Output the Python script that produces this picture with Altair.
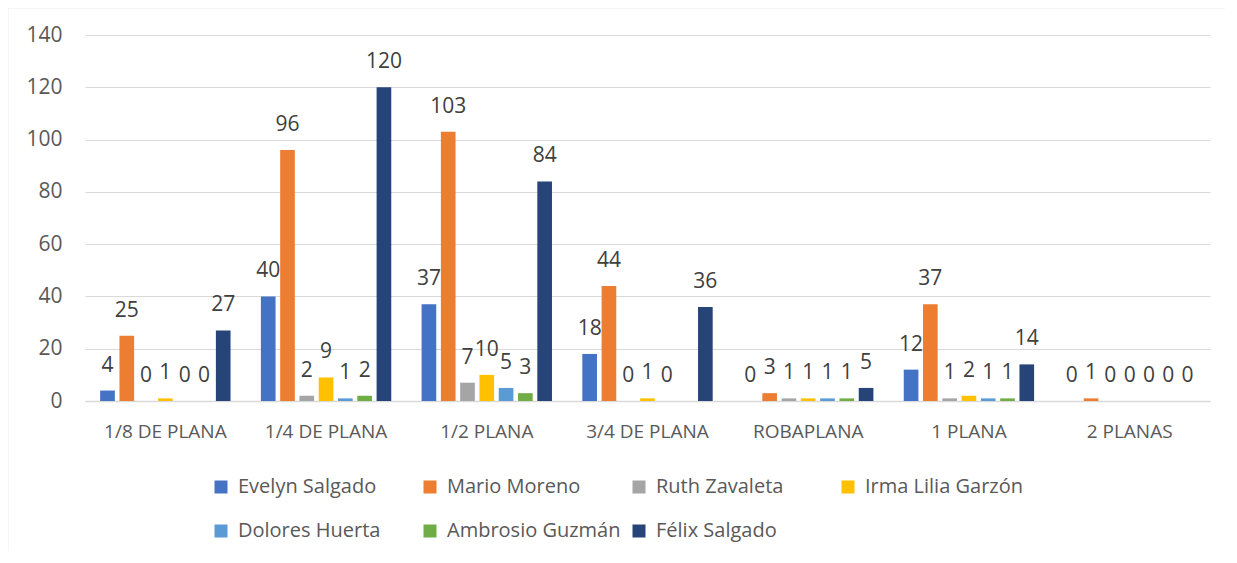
import altair as alt
import pandas as pd

categories = ["1/8 DE PLANA", "1/4 DE PLANA", "1/2 PLANA", "3/4 DE PLANA",
              "ROBAPLANA", "1 PLANA", "2 PLANAS"]
series_names = ["Evelyn Salgado", "Mario Moreno", "Ruth Zavaleta", "Irma Lilia Garzón",
                "Dolores Huerta", "Ambrosio Guzmán", "Félix Salgado"]
colors = ["#4472C4", "#ED7D31", "#A5A5A5", "#FFC000", "#5B9BD5", "#70AD47", "#264478"]

evelyn = [4, 40, 37, 18, 0, 12, 0]
mario = [25, 96, 103, 44, 3, 37, 1]
ruth = [0, 2, 7, 0, 1, 1, 0]
irma = [1, 9, 10, 1, 1, 2, 0]
dolores = [0, 1, 5, 0, 1, 1, 0]
ambrosio = [0, 2, 3, None, 1, 1, 0]
felix = [27, 120, 84, 36, 5, 14, 0]

series_values = [evelyn, mario, ruth, irma, dolores, ambrosio, felix]
y_ticks = [0, 20, 40, 60, 80, 100, 120, 140]

rows = []
for name, vals in zip(series_names, series_values):
    for cat, v in zip(categories, vals):
        if v is not None:
            rows.append({"categoria": cat, "serie": name, "valor": v})
df = pd.DataFrame(rows)

FONT = "Open Sans"

x_enc = alt.X("categoria:N", sort=categories,
              scale=alt.Scale(paddingInner=0.16, paddingOuter=0.08),
              axis=alt.Axis(title=None, labelAngle=0, labelFontSize=19, labelColor="#595959",
                            labelFont=FONT, ticks=False, domain=True, domainColor="#D9D9D9",
                            domainWidth=1.5, labelPadding=21, grid=False))
xoff_enc = alt.XOffset("serie:N", sort=series_names,
                       scale=alt.Scale(paddingInner=0.24, paddingOuter=0.12))
y_enc = alt.Y("valor:Q", scale=alt.Scale(domain=[0, 140], nice=False),
              axis=alt.Axis(title=None, values=y_ticks, labelFontSize=21, labelColor="#595959",
                            labelFont=FONT, ticks=False, domain=False, gridColor="#D9D9D9",
                            gridWidth=1.2, labelPadding=23))
color_enc = alt.Color("serie:N", sort=series_names,
                      scale=alt.Scale(domain=series_names, range=colors),
                      legend=alt.Legend(title=None, orient="none", legendX=126, legendY=442,
                                        direction="horizontal", columns=4, gridAlign="all",
                                        symbolType="square", symbolSize=169, symbolStrokeWidth=0,
                                        labelFontSize=20, labelFont=FONT, labelColor="#595959",
                                        labelOffset=7, columnPadding=8, rowPadding=24,
                                        padding=0, labelLimit=300))

bars = alt.Chart(df).mark_bar().encode(
    x=x_enc, xOffset=xoff_enc, y=y_enc, color=color_enc
)

labels = alt.Chart(df).mark_text(dy=-25, baseline="middle", fontSize=21, font=FONT,
                                 color="#404040").encode(
    x=alt.X("categoria:N", sort=categories),
    xOffset=alt.XOffset("serie:N", sort=series_names),
    y=alt.Y("valor:Q"),
    text=alt.Text("valor:Q", format="d"),
)

frame = alt.Chart(alt.Data(values=[{"f": 1}])).mark_rect(
    fill=None, fillOpacity=0, stroke="#D9D9D9", strokeWidth=1.5
).encode(
    x=alt.value(-77.5), x2=alt.value(1300), y=alt.value(-27.5), y2=alt.value(700)
)

chart = alt.layer(frame, bars, labels).properties(
    width=1125, height=366,
    autosize=alt.AutoSizeParams(type="none"),
    padding={"left": 77, "top": 27, "right": 15, "bottom": 150},
).configure(font=FONT).configure_view(stroke="transparent", strokeWidth=0).configure_axisY(
    domain=False
)

chart.save("out.html", embed_options={"renderer": "svg", "actions": False})
